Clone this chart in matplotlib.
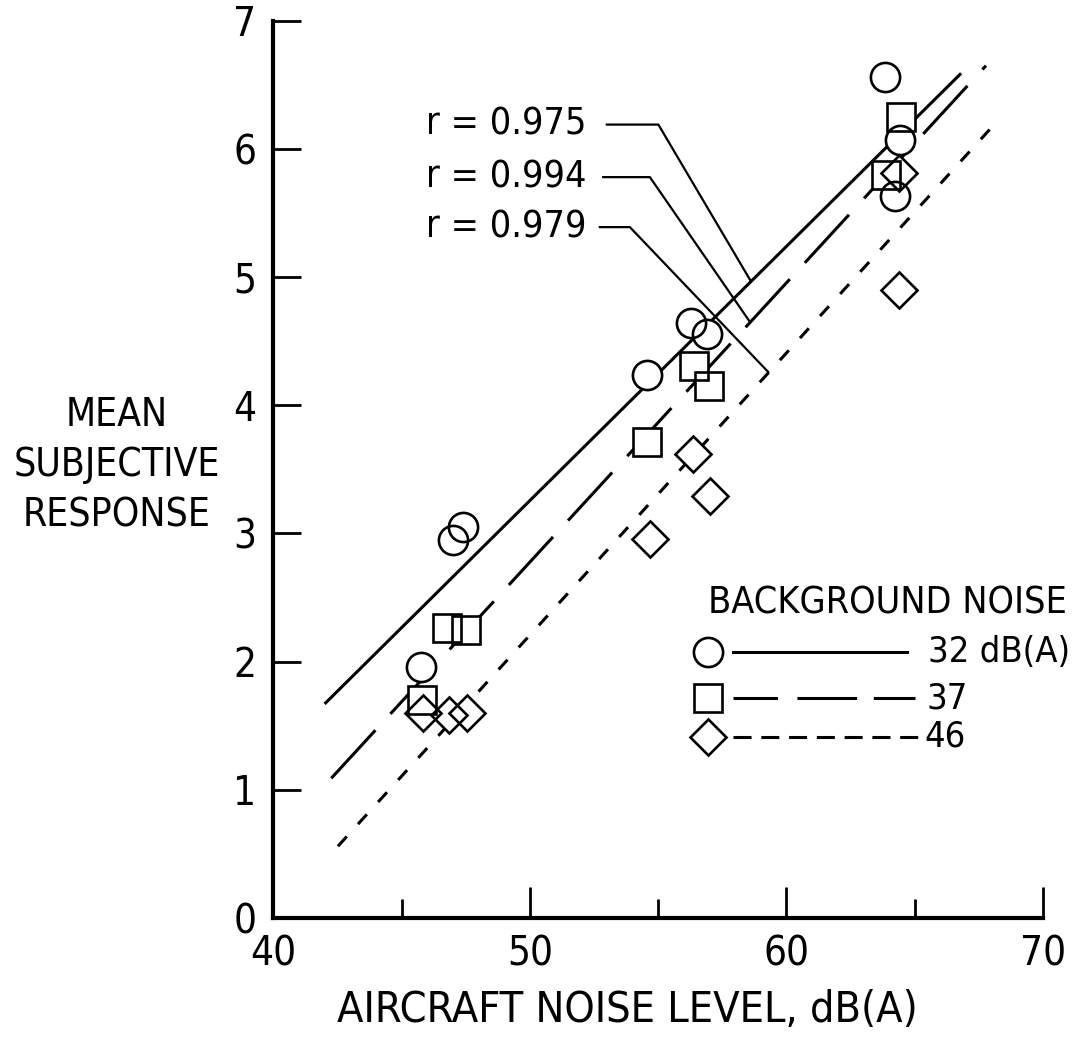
import matplotlib
matplotlib.use("Agg")
import matplotlib.pyplot as plt
from matplotlib import font_manager

# ------------------------------------------
# Font: narrow sans if available
# ------------------------------------------
available = {f.name for f in font_manager.fontManager.ttflist}
if "Liberation Sans Narrow" in available:
    plt.rcParams["font.family"] = ["Liberation Sans Narrow", "DejaVu Sans"]
else:
    plt.rcParams["font.family"] = ["DejaVu Sans"]
    plt.rcParams["font.stretch"] = "condensed"
plt.rcParams["lines.scale_dashes"] = False

# ------------------------------------------
# Data
# ------------------------------------------
# 32 dB(A) background noise (circles)
circle_x = [45.76, 47.0, 47.38, 54.55, 56.3, 56.9, 63.83, 64.43, 64.22]
circle_y = [1.96, 2.95, 3.05, 4.24, 4.64, 4.56, 6.56, 6.07, 5.63]
# 37 dB(A) (squares)
square_x = [45.79, 46.77, 47.5, 54.58, 56.4, 56.98, 63.88, 64.45]
square_y = [1.70, 2.26, 2.25, 3.71, 4.31, 4.15, 5.80, 6.25]
# 46 dB(A) (diamonds)
diamond_x = [45.82, 46.86, 47.54, 54.68, 56.35, 57.04, 64.37, 64.37]
diamond_y = [1.60, 1.58, 1.60, 2.96, 3.62, 3.29, 5.81, 4.90]

# regression line end points
fit32_x = [42.0, 66.81]
fit32_y = [1.67, 6.59]
fit37_x = [42.26, 67.78]
fit37_y = [1.09, 6.65]
fit46_x = [42.52, 67.96]
fit46_y = [0.56, 6.16]

# correlation labels and leader lines
r_labels = ["r = 0.975", "r = 0.994", "r = 0.979"]
leader_x = [[53.0, 55.01, 58.58], [52.86, 54.68, 58.58], [52.73, 53.9, 59.29]]
leader_y = [[6.19, 6.19, 4.98], [5.78, 5.78, 4.65], [5.39, 5.39, 4.26]]

x_ticks = [40, 50, 60, 70]
x_minor = [45, 55, 65]
y_ticks = [0, 1, 2, 3, 4, 5, 6, 7]

legend_labels = ["32 dB(A)", "37", "46"]

# ------------------------------------------
# Styles
# ------------------------------------------
LW = 2.2
long_dash = (0, (47, 16))
short_dash = (0, (9.5, 12))
styles = [
    dict(marker="o", ms=21),
    dict(marker="s", ms=19.5),
    dict(marker="D", ms=18.5),
]

fig = plt.figure(figsize=(10.75, 10.38), dpi=100)
ax = fig.add_axes([0.2542, 0.1156, 0.716, 0.8644])

# regression lines
ax.plot(fit32_x, fit32_y, color="black", lw=LW, solid_capstyle="butt", zorder=2)
ax.plot(fit37_x, fit37_y, color="black", lw=LW, linestyle=long_dash,
        dash_capstyle="butt", zorder=2)
ax.plot(fit46_x, fit46_y, color="black", lw=LW, linestyle=short_dash,
        dash_capstyle="butt", zorder=2)

# markers: white face under, hollow edge above
for (xs, ys), st in zip([(circle_x, circle_y), (square_x, square_y),
                         (diamond_x, diamond_y)], styles):
    ax.plot(xs, ys, linestyle="none", marker=st["marker"], ms=st["ms"],
            mfc="white", mec="none", zorder=3)
    ax.plot(xs, ys, linestyle="none", marker=st["marker"], ms=st["ms"],
            mfc="none", mec="black", mew=1.9, zorder=4)

# r labels with leader lines
for lab, lx, ly in zip(r_labels, leader_x, leader_y):
    ax.plot(lx, ly, color="black", lw=1.6, zorder=5)
    ax.text(52.22, ly[0], lab, ha="right", va="center", fontsize=27)

# legend drawn by hand (axes fraction coordinates)
tr = ax.transAxes
ax.text(0.5648, 0.351, "BACKGROUND NOISE", transform=tr, ha="left",
        va="center", fontsize=27)
rows_y = [0.2968, 0.2448, 0.2021]
line_end = [0.8232, 0.8336, 0.8466]
text_x = [0.8505, 0.8492, 0.8466]
leg_ls = ["-", (0, (32, 14, 43, 12)), (0, (13, 7))]
for i in range(3):
    ax.plot([0.5972, line_end[i]], [rows_y[i], rows_y[i]], transform=tr,
            color="black", lw=LW, linestyle=leg_ls[i], dash_capstyle="butt",
            clip_on=False)
    ax.plot([0.5652], [rows_y[i]], transform=tr, linestyle="none",
            marker=styles[i]["marker"], ms=styles[i]["ms"], mfc="white",
            mec="black", mew=1.9, clip_on=False)
    ax.text(text_x[i], rows_y[i], legend_labels[i], transform=tr, ha="left",
            va="center", fontsize=26)

# axes
ax.set_xlim(40, 70)
ax.set_ylim(0, 7)
ax.spines["top"].set_visible(False)
ax.spines["right"].set_visible(False)
ax.spines["left"].set_linewidth(3)
ax.spines["bottom"].set_linewidth(3)
ax.set_xticks(x_ticks)
ax.set_xticks(x_minor, minor=True)
ax.set_yticks(y_ticks)
ax.tick_params(axis="x", which="major", direction="in", length=22, width=2,
               pad=12, labelsize=29)
ax.tick_params(axis="x", which="minor", direction="in", length=14, width=2)
ax.tick_params(axis="y", direction="in", length=20, width=2, pad=12,
               labelsize=29)

fig.text(0.1086, 0.552, "MEAN\nSUBJECTIVE\nRESPONSE", ha="center",
         va="center", fontsize=28, linespacing=1.4, multialignment="center")
fig.text(0.584, 0.027, "AIRCRAFT NOISE LEVEL, dB(A)", ha="center",
         va="center", fontsize=31)

fig.savefig("out.png", dpi=100)
